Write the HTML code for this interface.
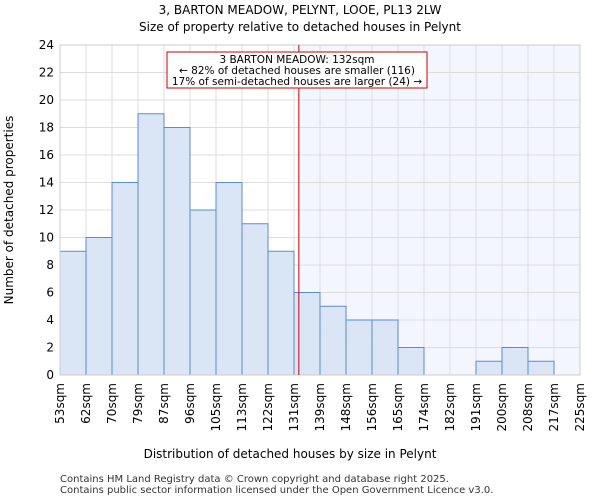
<!DOCTYPE html>
<html><head><meta charset="utf-8"><style>
body{margin:0;background:#fff;font-family:"DejaVu Sans","Liberation Sans",sans-serif;}
</style></head><body>
<svg id="c" width="600" height="500" xmlns="http://www.w3.org/2000/svg" font-family="DejaVu Sans, Liberation Sans, sans-serif">
<text x="300" y="14" text-anchor="middle" font-size="12">3, BARTON MEADOW, PELYNT, LOOE, PL13 2LW</text>
<text x="300" y="31" text-anchor="middle" font-size="12">Size of property relative to detached houses in Pelynt</text>
<g id="plot"></g>
<text x="290" y="458" text-anchor="middle" font-size="12">Distribution of detached houses by size in Pelynt</text>
<text transform="translate(13,210) rotate(-90)" text-anchor="middle" font-size="12">Number of detached properties</text>
<text x="60" y="482" font-size="10" fill="#333">Contains HM Land Registry data © Crown copyright and database right 2025.</text>
<text x="60" y="493" font-size="10" fill="#333">Contains public sector information licensed under the Open Government Licence v3.0.</text>
</svg>
<script>
const tickLabels=["53sqm","62sqm","70sqm","79sqm","87sqm","96sqm","105sqm","113sqm","122sqm","131sqm","139sqm","148sqm","156sqm","165sqm","174sqm","182sqm","191sqm","200sqm","208sqm","217sqm","225sqm"];
const counts=[9,10,14,19,18,12,14,11,9,6,5,4,4,2,0,0,1,2,1,0];
const yTicks=[0,2,4,6,8,10,12,14,16,18,20,22,24];
const propertySize=132;
const X0=60,X1=580,Y0=375,Y1=45,yMax=24;
const bw=(X1-X0)/counts.length;
const ys=v=>Y0-(Y0-Y1)*v/yMax;
const edges=[53,61.6,70.2,78.8,87.4,96,104.6,113.2,121.8,130.4,139,147.6,156.2,164.8,173.4,182,190.6,199.2,207.8,216.4,225];
function xs(s){for(let i=0;i<edges.length-1;i++){if(s<=edges[i+1])return X0+bw*(i+(s-edges[i])/(edges[i+1]-edges[i]));}return X1;}
const NS="http://www.w3.org/2000/svg",g=document.getElementById('plot');
function mk(t,a,p){const e=document.createElementNS(NS,t);for(const k in a)e.setAttribute(k,a[k]);(p||g).appendChild(e);return e;}
const rx=xs(propertySize);
let e=mk('rect',{x:rx,y:Y1,width:X1-rx,height:Y0-Y1,fill:'#f3f6fd'});

for(const t of yTicks){e=mk('line',{x1:X0,x2:X1,y1:ys(t),y2:ys(t),stroke:'#ddd'});

e=mk('text',{x:X0-6,y:ys(t)+4,'text-anchor':'end','font-size':12});e.textContent=t;
}
for(let i=0;i<tickLabels.length;i++){const x=X0+bw*i;
e=mk('line',{x1:x,x2:x,y1:Y1,y2:Y0,stroke:'#ddd'});

e=mk('text',{transform:`translate(${x+4},${Y0+8}) rotate(-90)`,'text-anchor':'end','font-size':12});e.textContent=tickLabels[i];
}
counts.forEach((v,i)=>{if(v<=0)return;e=mk('rect',{x:X0+bw*i,y:ys(v),width:bw,height:Y0-ys(v),fill:'#dae5f5',stroke:'#5b8bd8','stroke-width':1});
});
e=mk('rect',{x:X0,y:Y1,width:X1-X0,height:Y0-Y1,fill:'none',stroke:'#ccc'});

e=mk('line',{x1:rx,x2:rx,y1:Y1,y2:Y0,stroke:'#cc0000','stroke-width':1});

const ag=mk('g',{});
mk('rect',{x:167,y:52,width:260,height:36,fill:'#fff',stroke:'#cc0000'},ag);
const lines=["3 BARTON MEADOW: "+propertySize+"sqm","← 82% of detached houses are smaller (116)","17% of semi-detached houses are larger (24) →"];
lines.forEach((l,i)=>{const t=mk('text',{x:297,y:63+i*11,'text-anchor':'middle','font-size':10.5},ag);t.textContent=l;
});
</script>
</body></html>
